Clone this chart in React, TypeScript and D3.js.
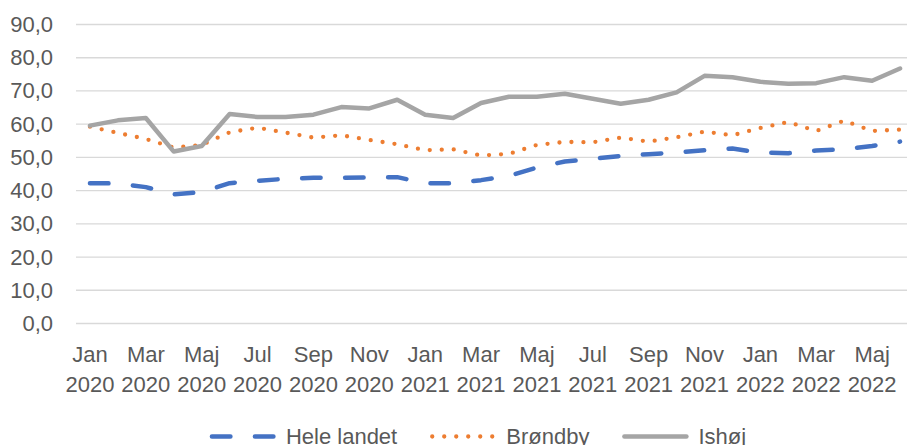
import React, { useRef, useEffect } from 'react';
import * as d3 from 'd3';

// Månedlige værdier, jan 2020 - jun 2022
const months = [
  "Jan 2020", "Feb 2020", "Mar 2020", "Apr 2020", "Maj 2020", "Jun 2020",
  "Jul 2020", "Aug 2020", "Sep 2020", "Okt 2020", "Nov 2020", "Dec 2020",
  "Jan 2021", "Feb 2021", "Mar 2021", "Apr 2021", "Maj 2021", "Jun 2021",
  "Jul 2021", "Aug 2021", "Sep 2021", "Okt 2021", "Nov 2021", "Dec 2021",
  "Jan 2022", "Feb 2022", "Mar 2022", "Apr 2022", "Maj 2022", "Jun 2022",
];

const heleLandet = [
  42.1, 42.0, 40.9, 38.7, 39.4, 42.1, 42.8, 43.4, 43.7, 43.7, 43.8, 43.9,
  42.1, 42.1, 43.0, 44.3, 46.8, 48.6, 49.4, 50.3, 50.8, 51.3, 52.0, 52.5,
  51.3, 51.1, 51.9, 52.3, 53.3, 54.6,
];

const brondby = [
  59.1, 57.2, 55.4, 52.8, 53.6, 57.4, 58.8, 57.3, 55.8, 56.5, 55.1, 53.8,
  52.0, 52.3, 50.4, 50.9, 53.6, 54.5, 54.4, 55.8, 54.6, 55.9, 57.6, 56.5,
  58.7, 60.5, 57.8, 60.9, 57.8, 58.2,
];

const ishoj = [
  59.4, 61.0, 61.7, 51.6, 53.3, 62.9, 62.0, 62.0, 62.7, 65.0, 64.6, 67.2,
  62.7, 61.7, 66.2, 68.1, 68.1, 69.0, 67.5, 66.0, 67.2, 69.4, 74.4, 74.0,
  72.6, 72.0, 72.2, 74.0, 72.9, 76.6,
];

const seriesNames = ["Hele landet", "Brøndby", "Ishøj"];
const yTicks = [0, 10, 20, 30, 40, 50, 60, 70, 80, 90];

const FONT = "'Liberation Sans', Arial, sans-serif";
const TEXT_COLOR = "#595959";

const styles = [
  { color: "#4472c4", dash: "18.5 24.5", width: 4.5 },
  { color: "#ed7d31", dash: "0 12", width: 4.3 },
  { color: "#a5a5a5", dash: null, width: 4.5 },
];

const App = () => {
  const chartRef = useRef<SVGSVGElement>(null);

  useEffect(() => {
    const svg = d3.select(chartRef.current);
    svg.selectAll("*").remove();

    const left = 76, right = 914, top = 24, bottom = 323;

    const x = d3.scaleBand().domain(months).range([left, right]).padding(0);
    const y = d3.scaleLinear().domain([0, 90]).range([bottom, top]);

    // Grid lines
    const grid = svg.append("g")
      .attr("transform", `translate(${left},0)`)
      .call(d3.axisLeft(y).tickValues(yTicks).tickSize(-(right - left)).tickFormat(() => ""));
    grid.select(".domain").remove();
    grid.selectAll("line").attr("stroke", "#d9d9d9").attr("stroke-width", 1.33);

    // Y axis labels
    const yAxis = svg.append("g")
      .attr("transform", "translate(53,0)")
      .call(d3.axisLeft(y).tickValues(yTicks).tickSize(0).tickPadding(0)
        .tickFormat(d => d3.format(".1f")(d as number).replace(".", ",")));
    yAxis.select(".domain").remove();
    yAxis.selectAll("text")
      .attr("dy", null)
      .attr("y", 7.5)
      .attr("fill", TEXT_COLOR)
      .style("font-family", FONT)
      .style("font-size", "22px");

    // X axis labels (two lines)
    const xAxis = svg.append("g")
      .attr("transform", `translate(0,${bottom})`)
      .call(d3.axisBottom(x).tickValues(months.filter((_, i) => i % 2 === 0)).tickSize(0));
    xAxis.select(".domain").remove();
    xAxis.selectAll<SVGTextElement, string>("text")
      .attr("dy", null)
      .attr("y", null)
      .attr("fill", TEXT_COLOR)
      .style("font-family", FONT)
      .style("font-size", "22px")
      .text(null)
      .each(function (d) {
        const [m, yr] = d.split(" ");
        const t = d3.select(this);
        t.append("tspan").attr("x", 0).attr("y", 39).text(m);
        t.append("tspan").attr("x", 0).attr("y", 69).text(yr);
      });

    // Lines
    const line = d3.line<number>()
      .x((_, i) => (x(months[i]) as number) + x.bandwidth() / 2)
      .y(d => y(d));

    [heleLandet, brondby, ishoj].forEach((data, k) => {
      svg.append("path")
        .datum(data)
        .attr("d", line)
        .attr("fill", "none")
        .attr("stroke", styles[k].color)
        .attr("stroke-width", styles[k].width)
        .attr("stroke-linecap", "round")
        .attr("stroke-linejoin", "round")
        .attr("stroke-dasharray", styles[k].dash);
    });

    // Legend
    const legend = svg.append("g");
    const lineY = 436.5, textY = 444, sampleLen = 62;
    let cursor = 0;
    seriesNames.forEach((name, k) => {
      const g = legend.append("g").attr("transform", `translate(${cursor},0)`);
      g.append("line")
        .attr("x1", 2).attr("x2", 2 + sampleLen)
        .attr("y1", lineY).attr("y2", lineY)
        .attr("stroke", styles[k].color)
        .attr("stroke-width", styles[k].width)
        .attr("stroke-linecap", "round")
        .attr("stroke-dasharray", styles[k].dash);
      const txt = g.append("text")
        .attr("x", sampleLen + 14)
        .attr("y", textY)
        .attr("fill", TEXT_COLOR)
        .style("font-family", FONT)
        .style("font-size", "22px")
        .text(name);
      const w = (txt.node() as SVGTextElement).getComputedTextLength();
      cursor += sampleLen + 14 + w + 33;
    });
    const total = cursor - 33;
    legend.attr("transform", `translate(${478 - total / 2},0)`);
  }, []);

  return (
    <svg
      ref={chartRef}
      width={907}
      height={445}
      style={{ position: "absolute", left: 0, top: 0, background: "#fff" }}
    />
  );
};

export default App;
